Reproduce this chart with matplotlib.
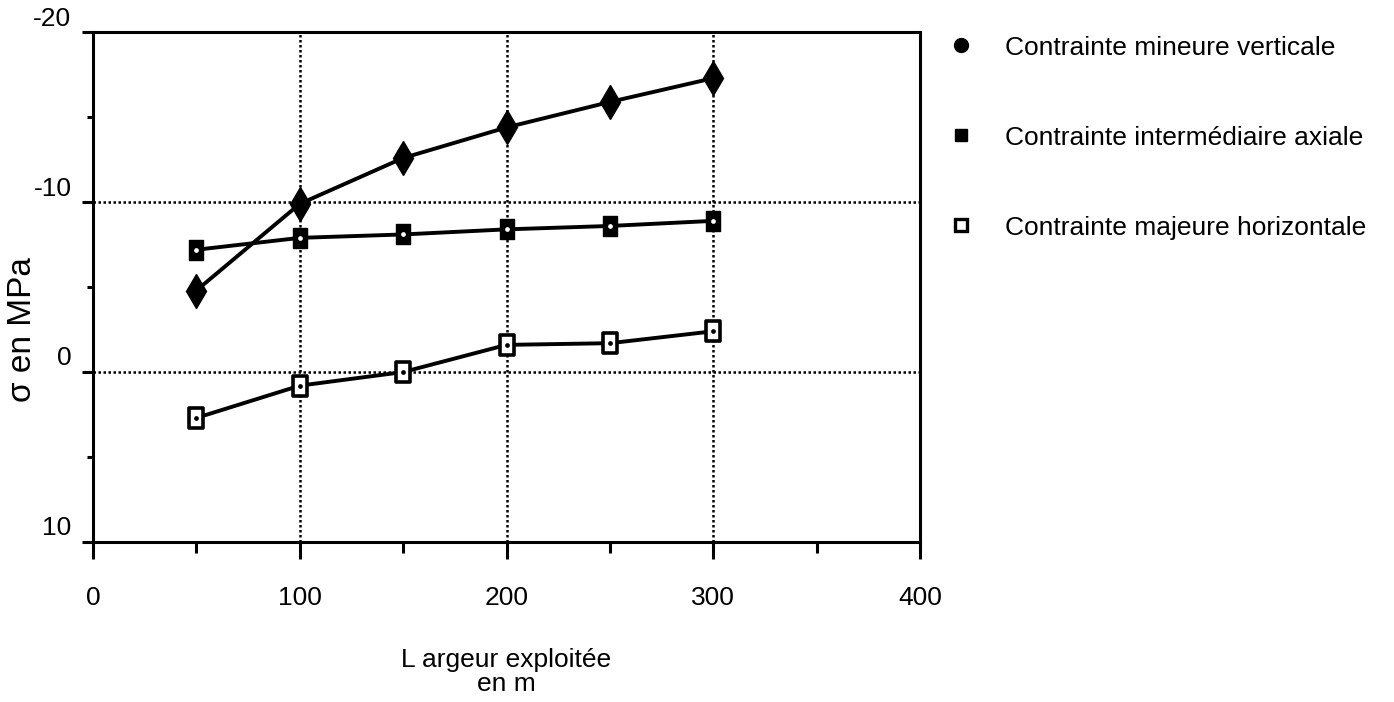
import numpy as np
import matplotlib.pyplot as plt
from matplotlib.lines import Line2D
from matplotlib.path import Path

plt.rcParams['font.family'] = ['Liberation Sans', 'DejaVu Sans']

# Données
largeur = [50, 100, 150, 200, 250, 300]
mineure_verticale = [-4.8, -9.9, -12.6, -14.4, -15.9, -17.3]
intermediaire_axiale = [-7.2, -7.9, -8.1, -8.4, -8.6, -8.9]
majeure_horizontale = [2.7, 0.8, 0.0, -1.6, -1.7, -2.4]

noms = ['Contrainte mineure verticale',
        'Contrainte intermédiaire axiale',
        'Contrainte majeure horizontale']

# carré un peu plus haut que large, comme sur le document scanné
rect = Path([(-0.36, -0.5), (0.36, -0.5), (0.36, 0.5), (-0.36, 0.5), (-0.36, -0.5)],
            [Path.MOVETO, Path.LINETO, Path.LINETO, Path.LINETO, Path.CLOSEPOLY])

fig = plt.figure(figsize=(13.94, 7.02), dpi=100)
ax = fig.add_axes([0.0667, 0.228, 0.5933, 0.726])

lw = 2.8
ax.plot(largeur, mineure_verticale, color='black', lw=lw, marker='d',
        ms=17, mfc='black', mec='black', zorder=3)
ax.plot(largeur, intermediaire_axiale, color='black', lw=lw, marker=rect,
        ms=14, mfc='black', mec='black', zorder=3)
ax.plot(largeur, intermediaire_axiale, ls='none', marker='o', ms=2.4,
        mfc='white', mec='white', zorder=4)
ax.plot(largeur, majeure_horizontale, color='black', lw=lw, marker=rect,
        ms=14, mfc='white', mec='black', mew=2.6, zorder=3)
ax.plot(largeur, majeure_horizontale, ls='none', marker='o', ms=2.4,
        mfc='black', mec='black', zorder=4)

ax.set_xlim(0, 400)
ax.set_ylim(10, -20)
ax.set_xticks([0, 100, 200, 300, 400])
ax.set_xticks([50, 150, 250, 350], minor=True)
ax.set_yticks([-20, -10, 0, 10])
ax.set_yticks([-15, -5, 5], minor=True)

for v in [100, 200, 300]:
    ax.axvline(v, color='black', ls=(0, (1, 1)), lw=1.8, zorder=1)
for v in [-10, 0]:
    ax.axhline(v, color='black', ls=(0, (1, 1)), lw=1.8, zorder=1)

for s in ax.spines.values():
    s.set_linewidth(2.2)
ax.tick_params(axis='x', which='major', direction='out', length=12, width=2.2,
               labelsize=19, pad=20)
ax.tick_params(axis='x', which='minor', direction='out', length=8, width=2.2)
ax.tick_params(axis='y', which='major', direction='out', length=8, width=2.2,
               labelleft=False)
ax.tick_params(axis='y', which='minor', direction='out', length=4, width=2.2)

# étiquettes y placées un peu au-dessus de la ligne comme sur l'original
for v in [-20, -10, 0, 10]:
    ax.text(-0.026, v - 0.8, str(v), transform=ax.get_yaxis_transform(),
            ha='right', va='center', fontsize=19)

ax.set_xlabel('L argeur exploitée\nen m', fontsize=19, labelpad=27,
              linespacing=1.0)
ax.set_ylabel('σ en MPa', fontsize=24)
ax.yaxis.set_label_coords(-0.066, 0.416)

handles = [
    Line2D([], [], ls='none', marker='o', ms=10, mfc='black', mec='black'),
    Line2D([], [], ls='none', marker='s', ms=9, mfc='black', mec='black'),
    Line2D([], [], ls='none', marker='s', ms=8, mfc='white', mec='black', mew=2.4),
]
leg = fig.legend(handles, noms, loc='upper left', bbox_to_anchor=(0.663, 0.983),
                 frameon=False, fontsize=19, labelspacing=2.5,
                 handletextpad=1.15, handlelength=1.0)

fig.savefig('out.png', dpi=100)
